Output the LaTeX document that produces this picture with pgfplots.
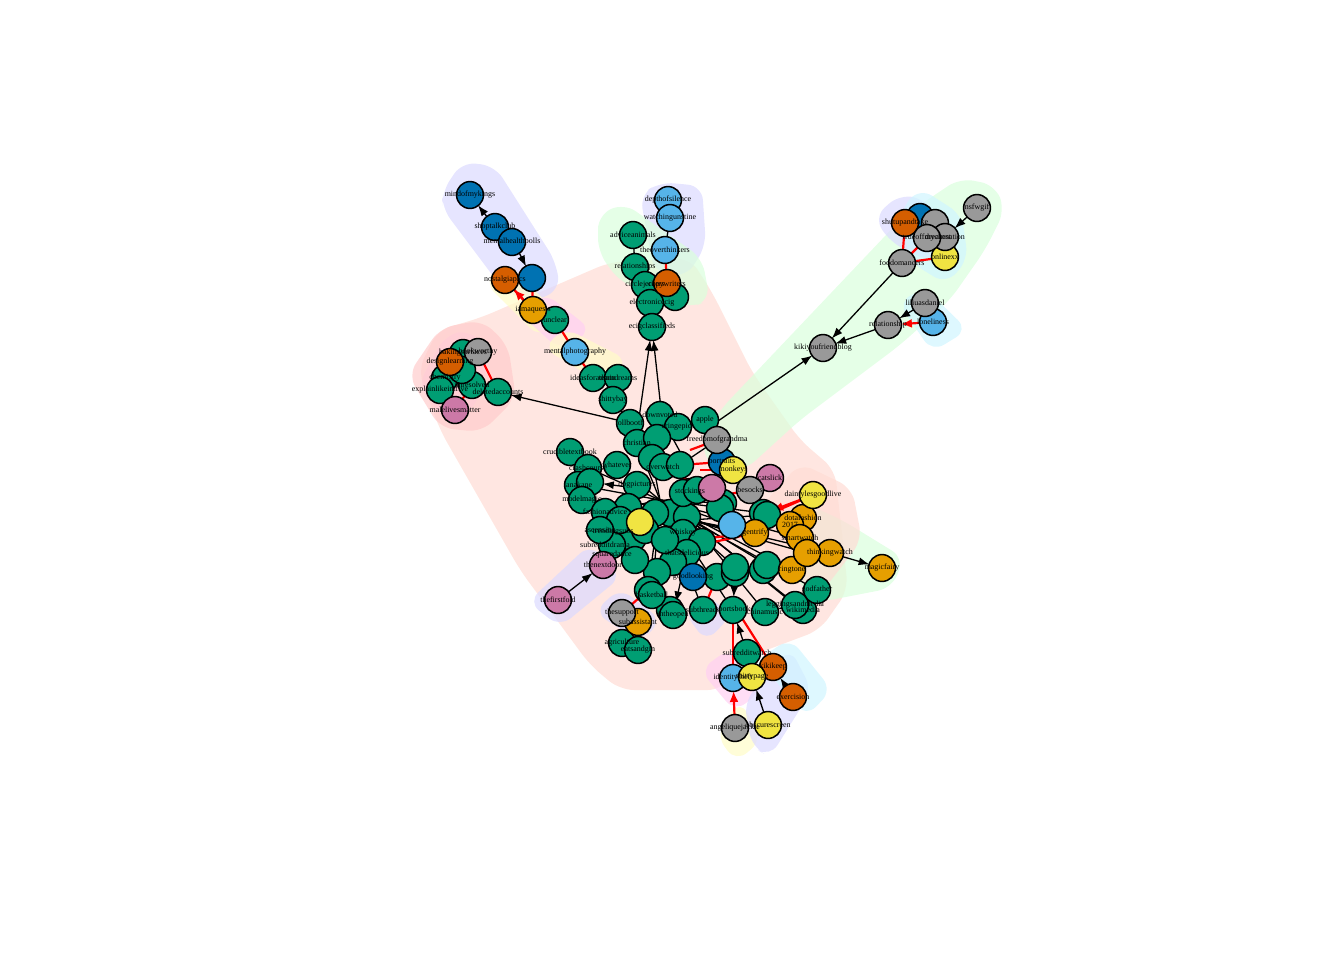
\documentclass[border=0pt]{standalone}
\usepackage{fontspec}
\setmainfont{Liberation Serif}
\usepackage{pgfplots}
\pgfplotsset{compat=1.18}
\usepackage{pgfplotstable}
\usetikzlibrary{arrows.meta}
\definecolor{cG}{HTML}{009E73}
\definecolor{cO}{HTML}{E69F00}
\definecolor{cS}{HTML}{56B4E9}
\definecolor{cB}{HTML}{0072B2}
\definecolor{cV}{HTML}{D55E00}
\definecolor{cY}{HTML}{F0E442}
\definecolor{cP}{HTML}{CC79A7}
\definecolor{cR}{HTML}{999999}
\definecolor{hSal}{HTML}{FFDCD4}
\definecolor{hRed}{HTML}{FFCCCC}
\definecolor{hGrn}{HTML}{DAFFDD}
\definecolor{hLav}{HTML}{DCDAFF}
\definecolor{hYel}{HTML}{FFFCC8}
\definecolor{hMag}{HTML}{FFD0F2}
\definecolor{hCya}{HTML}{D0F5FF}

\pgfplotstableread{
x y
593 378
618 378
613 400
555 320
633 235
635 267
645 285
675 297
650 303
652 327
463 353
445 378
440 390
472 385
498 392
462 370
570 452
588 468
578 485
590 482
582 500
617 465
637 485
630 423
660 415
678 427
705 420
637 443
657 438
652 458
663 467
680 465
690 492
628 507
670 513
687 517
683 493
697 490
723 503
763 513
655 513
720 508
613 532
633 538
683 533
702 542
687 553
673 562
657 572
635 560
717 577
735 573
763 570
648 590
670 610
652 595
673 615
622 643
638 650
703 610
733 610
765 612
803 610
747 653
767 515
735 567
767 565
817 590
795 605
605 512
612 545
620 520
600 530
645 530
665 540
}\green
\pgfplotstableread{
x y
533 310
638 622
803 518
790 525
755 533
800 538
830 553
882 568
792 570
807 553
}\orange
\pgfplotstableread{
x y
575 352
668 200
670 218
665 250
933 322
733 678
732 525
}\sky
\pgfplotstableread{
x y
470 195
495 227
512 242
532 278
920 217
722 462
693 577
}\blue
\pgfplotstableread{
x y
505 280
667 283
450 362
905 223
773 667
793 697
}\verm
\pgfplotstableread{
x y
640 522
945 257
733 470
813 495
752 677
768 725
}\yellow
\pgfplotstableread{
x y
455 410
558 600
603 565
770 478
712 488
}\pink
\pgfplotstableread{
x y
478 352
977 208
935 223
945 237
927 238
902 263
925 303
888 325
823 348
717 440
750 490
622 613
735 728
}\grey
\pgfplotstableread{
x y label
470 195 mindofmykings
495 227 shoptalkclub
512 242 mentalhealthpolls
505 280 nostalgiapics
533 310 iamaquests
555 320 unclear
575 352 mentalphotography
593 378 ideasforadmin
618 378 teamdreams
613 400 shittybay
668 200 depthofsilence
670 218 watchingunstine
665 250 theoverthinkers
633 235 adviceanimals
635 267 relationships
645 285 circlejerkers
667 285 copywriters
652 303 electronicecig
652 327 ecigclassifieds
463 353 bakingsurfaces
478 352 bookworthy
450 362 designlearning
445 378 chemistry
440 390 explainlikeimfive
472 385 unresolved
498 392 deletedaccounts
455 410 malelivesmatter
630 423 tollbooth
660 415 downvoted
678 427 cringepics
705 420 apple
637 443 christian
570 452 crucibletextbook
588 468 crashcourse
578 485 lanakane
582 500 modelmagic
617 465 whatever
637 485 dogpictures
613 532 trendingsubs
605 512 fashionadvice
600 530 ascension
605 545 subredditdrama
612 555 squaredance
717 440 freedomofgrandma
722 462 portraits
733 470 monkeys
770 478 catslick
750 490 besocks
813 495 daintylesgoodlive
803 518 dotafashion
790 525 2017
755 533 gentrify
800 538 smartwatch
830 553 thinkingwatch
882 568 magicfairy
792 570 ringtone
817 590 godfather
795 605 leggingsandmedia
558 600 thefirstfold
603 565 thenextdoor
622 613 thesupport
638 622 subassistant
622 643 agriculture
638 650 eatsandgin
652 595 basketball
673 615 intheopen
693 577 goodlooking
703 610 subthreads
733 610 sportsbook
765 612 chinamusic
803 610 wikimedia
747 653 subredditwatch
733 678 identitytheft
752 677 shittypage
773 667 kikikeep
793 697 exercision
768 725 obscurescreen
735 728 angeliquejackie
823 348 kikiyoufriendblog
888 325 relationship
925 303 liliuasdaniel
933 322 loneliness
902 263 foodomancers
927 238 trueoffmychest
945 237 dreamnation
945 257 onlinexx
905 223 shutupandtake
977 208 nsfwgif
683 533 whiskey
690 492 stockings
663 467 overwatch
687 553 thatsdelicious
}\labels

\newcommand{\hull}[2]{\addplot[draw=none, fill=#1, fill opacity=0.7, rounded corners=14pt] coordinates {#2} -- cycle;}
\newcommand{\ed}[4]{\addplot[black, line width=1.3pt] coordinates {(#1,#2)(#3,#4)};}
\newcommand{\ar}[4]{\addplot[black, line width=1.3pt, -{Latex[length=11pt,width=8pt]}, shorten >=13pt] coordinates {(#1,#2)(#3,#4)};}
\newcommand{\red}[4]{\addplot[red, line width=2.2pt] coordinates {(#1,#2)(#3,#4)};}
\newcommand{\rar}[4]{\addplot[red, line width=2.2pt, -{Latex[length=11pt,width=9pt]}, shorten >=13pt] coordinates {(#1,#2)(#3,#4)};}

\begin{document}
\begin{tikzpicture}
\begin{axis}[
  width=1344bp, height=960bp, scale only axis,
  xmin=0, xmax=1344, ymin=0, ymax=960, y dir=reverse,
  hide axis, clip=false,
  every axis plot/.append style={forget plot},
]
\path (axis cs:0,0) rectangle (axis cs:1344,960);
% hulls
\hull{hSal}{(418,370)(438,330)(480,318)(610,262)(690,258)(712,292)(752,372)(800,440)(835,470)(848,590)(820,630)(740,660)(722,690)(620,690)(590,665)(520,570)(440,430)}
\hull{hGrn}{(700,445)(720,410)(905,215)(960,178)(995,185)(1005,210)(985,250)(950,300)(900,345)(800,420)(745,470)(715,472)}
\hull{hLav}{(442,192)(462,162)(495,166)(556,262)(560,290)(532,302)(505,292)(442,208)}
\hull{hYel}{(484,282)(505,260)(562,318)(540,338)}
\hull{hMag}{(518,312)(545,293)(592,330)(560,350)}
\hull{hYel}{(543,348)(565,328)(628,360)(610,388)}
\hull{hLav}{(640,195)(660,182)(702,186)(706,246)(686,277)(654,272)}
\hull{hGrn}{(598,215)(624,203)(702,258)(710,300)(690,308)(620,282)(598,252)}
\hull{hMag}{(418,385)(445,335)(470,330)(490,350)(480,400)(450,428)}
\hull{hRed}{(408,375)(440,328)(482,320)(508,345)(516,398)(482,432)(440,428)}
\hull{hLav}{(874,217)(900,194)(926,200)(956,240)(930,262)(890,242)}
\hull{hCya}{(900,210)(920,188)(962,215)(968,260)(946,284)(910,262)}
\hull{hCya}{(898,302)(925,288)(968,330)(932,352)}
\hull{hLav}{(528,602)(590,544)(622,576)(560,627)}
\hull{hLav}{(594,612)(620,588)(662,620)(640,642)}
\hull{hGrn}{(798,500)(842,520)(904,558)(892,588)(820,602)(788,572)}
\hull{hSal}{(758,510)(800,463)(852,488)(862,540)(822,592)(768,562)}
\hull{hMag}{(700,670)(730,648)(762,690)(735,712)}
\hull{hYel}{(716,735)(740,700)(762,740)(736,762)}
\hull{hLav}{(744,702)(790,648)(812,690)(770,757)(752,747)}
\hull{hCya}{(758,660)(790,638)(832,690)(806,717)}
\hull{hLav}{(684,612)(700,590)(732,615)(706,642)}
% black edges (center spokes)
\ed{660}{500}{588}{468}\ed{660}{500}{578}{485}\ed{660}{500}{613}{532}
\ed{660}{500}{628}{507}\ed{660}{500}{617}{465}\ed{660}{500}{637}{443}
\ed{660}{500}{652}{458}\ed{660}{500}{723}{503}\ed{660}{500}{755}{533}
\ed{660}{500}{803}{518}\ed{660}{500}{800}{538}\ed{660}{500}{792}{570}
\ed{660}{500}{767}{565}\ed{660}{500}{735}{567}\ed{660}{500}{703}{610}
\ed{660}{500}{733}{610}\ed{660}{500}{652}{595}\ed{660}{500}{648}{590}
\ed{690}{520}{755}{533}\ed{690}{520}{807}{553}\ed{690}{520}{830}{553}
\ed{690}{520}{767}{515}\ed{690}{520}{817}{590}\ed{690}{520}{795}{605}
\ed{690}{520}{765}{612}\ed{690}{520}{803}{610}\ed{690}{520}{612}{545}
\ed{645}{530}{600}{530}\ed{645}{530}{605}{512}\ed{645}{530}{582}{500}
\ed{633}{235}{635}{267}\ed{665}{250}{670}{218}
\ed{630}{423}{613}{400}\ed{680}{465}{717}{440}
% black arrows
\ar{495}{227}{470}{195}
\ar{505}{225}{532}{278}
\ar{638}{425}{652}{327}
\ar{662}{418}{652}{327}
\ar{630}{423}{498}{392}
\ar{708}{428}{823}{348}
\ar{902}{263}{823}{348}
\ar{888}{325}{823}{348}
\ar{977}{208}{945}{237}
\ar{925}{303}{888}{325}
\ar{558}{600}{603}{565}
\ar{768}{725}{752}{677}
\ar{793}{697}{773}{667}
\ar{747}{653}{733}{610}
\ar{830}{553}{882}{568}
\ar{687}{553}{673}{615}
\ar{735}{573}{733}{610}
\ar{795}{605}{765}{612}
\ar{650}{490}{590}{482}
\ar{655}{505}{582}{500}
\ar{720}{520}{755}{533}
\ar{690}{470}{660}{415}
% red edges
\red{532}{278}{533}{310}\red{505}{280}{533}{310}\red{533}{310}{555}{320}
\red{555}{320}{575}{352}\red{575}{352}{593}{378}
\red{665}{250}{667}{283}
\red{478}{352}{498}{392}\red{455}{410}{472}{385}\red{462}{370}{478}{352}
\red{905}{223}{902}{263}\red{945}{257}{902}{263}\red{927}{238}{902}{263}
\red{733}{678}{733}{610}\red{773}{667}{740}{615}
\red{712}{488}{660}{470}\red{722}{462}{680}{465}\red{717}{440}{690}{450}
\red{755}{533}{700}{545}\red{813}{495}{767}{515}\red{700}{490}{725}{510}
\red{650}{540}{690}{560}\red{622}{613}{648}{590}\red{703}{610}{717}{577}
\red{700}{470}{733}{470}\red{640}{522}{670}{513}\red{683}{493}{712}{488}
% red arrows
\rar{667}{283}{652}{327}
\rar{498}{392}{472}{385}
\rar{933}{322}{888}{325}
\rar{735}{728}{733}{678}
\rar{813}{495}{760}{515}
\rar{755}{533}{690}{540}
\rar{533}{310}{505}{280}
\rar{750}{490}{700}{500}
% nodes
\addplot[only marks, mark=*, mark size=13.5pt, mark options={fill=cG, draw=black, line width=1.5pt}] table[x=x,y=y] {\green};
\addplot[only marks, mark=*, mark size=13.5pt, mark options={fill=cO, draw=black, line width=1.5pt}] table[x=x,y=y] {\orange};
\addplot[only marks, mark=*, mark size=13.5pt, mark options={fill=cS, draw=black, line width=1.5pt}] table[x=x,y=y] {\sky};
\addplot[only marks, mark=*, mark size=13.5pt, mark options={fill=cB, draw=black, line width=1.5pt}] table[x=x,y=y] {\blue};
\addplot[only marks, mark=*, mark size=13.5pt, mark options={fill=cV, draw=black, line width=1.5pt}] table[x=x,y=y] {\verm};
\addplot[only marks, mark=*, mark size=13.5pt, mark options={fill=cY, draw=black, line width=1.5pt}] table[x=x,y=y] {\yellow};
\addplot[only marks, mark=*, mark size=13.5pt, mark options={fill=cP, draw=black, line width=1.5pt}] table[x=x,y=y] {\pink};
\addplot[only marks, mark=*, mark size=13.5pt, mark options={fill=cR, draw=black, line width=1.5pt}] table[x=x,y=y] {\grey};
% labels
\addplot[only marks, mark=none, point meta=explicit symbolic, nodes near coords,
  every node near coord/.append style={anchor=center, inner sep=0pt, font=\fontsize{8}{9}\selectfont, text=black}]
  table[x=x,y=y,meta=label] {\labels};
\end{axis}
\end{tikzpicture}
\end{document}
